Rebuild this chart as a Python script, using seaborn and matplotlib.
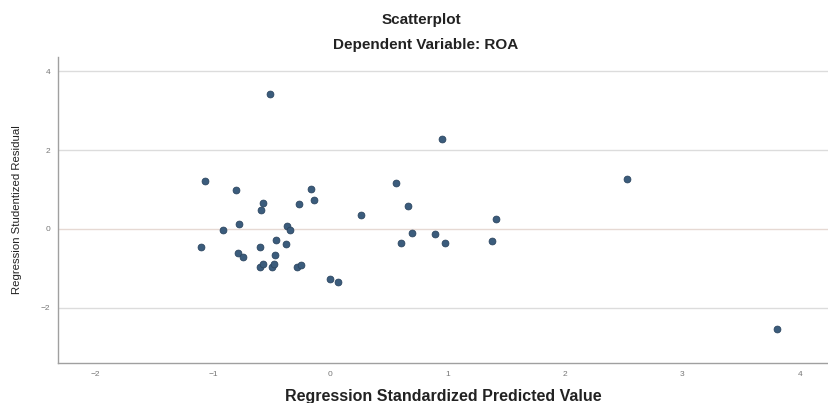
import matplotlib
matplotlib.use("Agg")
import matplotlib.pyplot as plt
import seaborn as sns
import pandas as pd

# Regression diagnostics
predicted = [
    -1.07, -0.80, -0.16, -0.14, -0.27, -0.57, -0.59, -0.78, -0.91, -0.37,
    -0.34, -0.46, -0.38, -1.10, -0.60, -0.79, -0.74, -0.47, -0.60, -0.57,
    -0.50, -0.48, -0.28, -0.25, 0.56, 0.66, 0.26, 1.41, 0.70, 0.89,
    0.60, 0.98, 1.38, 0.00, 0.07, 0.95, 2.53, 3.81, -0.51,
]
residual = [
    1.22, 0.99, 1.02, 0.74, 0.64, 0.65, 0.48, 0.13, -0.03, 0.06,
    -0.04, -0.28, -0.38, -0.46, -0.46, -0.61, -0.71, -0.66, -0.96, -0.89,
    -0.97, -0.89, -0.97, -0.92, 1.16, 0.59, 0.36, 0.25, -0.11, -0.14,
    -0.35, -0.36, -0.30, -1.28, -1.36, 2.29, 1.27, -2.54, 3.43,
]
x_ticks = [-2, -1, 0, 1, 2, 3, 4]
y_ticks = [-2, 0, 2, 4]

df = pd.DataFrame({"pred": predicted, "resid": residual})

sns.set_style("white")
plt.rcParams["font.family"] = ["Liberation Sans", "DejaVu Sans"]

fig = plt.figure(figsize=(8.29, 4.03), dpi=100)
ax = fig.add_axes([0.070, 0.099, 0.930, 0.760])

for yv in y_ticks:
    ax.axhline(yv, color="#e6d9d3" if yv == 0 else "#dcdcdc", lw=1.0, zorder=0)

sns.scatterplot(data=df, x="pred", y="resid", ax=ax, s=24,
                color="#3b5c7c", edgecolor="#2b4560", linewidth=0.6, zorder=3)

ax.set_xlim(-2.32, 4.25)
ax.set_ylim(-3.41, 4.37)
ax.set_xticks(x_ticks)
ax.set_yticks(y_ticks)
ax.tick_params(labelsize=6, colors="#777777", length=2, width=0.6)

for side in ["top", "right"]:
    ax.spines[side].set_visible(False)
for side in ["left", "bottom"]:
    ax.spines[side].set_color("#a0a0a0")
    ax.spines[side].set_linewidth(1.0)

ax.set_xlabel("Regression Standardized Predicted Value", fontsize=11.5,
              fontweight="bold", color="#222222", labelpad=8)
ax.set_ylabel("Regression Studentized Residual", fontsize=8.2,
              color="#222222")
ax.yaxis.set_label_coords(-0.047, 0.5)

fig.text(0.508, 0.95, "Scatterplot", ha="center", va="center",
         fontsize=11, fontweight="bold", color="#222222")
fig.text(0.513, 0.888, "Dependent Variable: ROA", ha="center", va="center",
         fontsize=11, fontweight="bold", color="#222222")

fig.savefig("out.png", dpi=100)
plt.close(fig)
